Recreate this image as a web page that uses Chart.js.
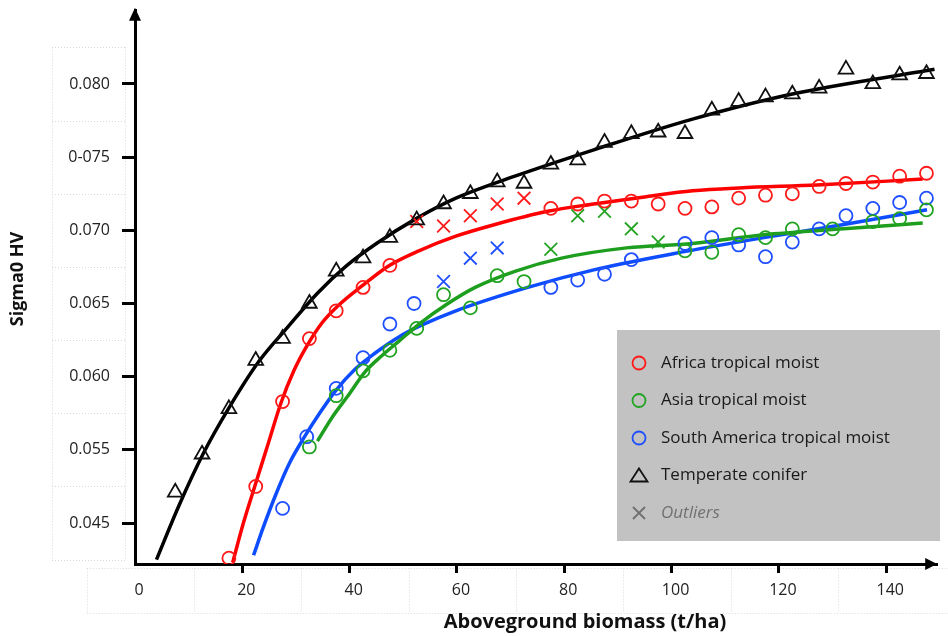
<!DOCTYPE html>
<html>
<head>
<meta charset="utf-8">
<script src="https://cdn.jsdelivr.net/npm/chart.js@4.4.0/dist/chart.umd.min.js"></script>
<style>
  html, body { margin: 0; padding: 0; background: #fff; }
  #wrap { width: 948px; height: 636px; }
</style>
</head>
<body>
<div id="wrap"><canvas id="c" width="948" height="636"></canvas></div>
<script>
// tick labels (the figure really says 0.045 and 0-075)
const xTicks = [0, 20, 40, 60, 80, 100, 120, 140];
const yTickValues = [0.050, 0.055, 0.060, 0.065, 0.070, 0.075, 0.080];
const yTickLabels = ['0.045', '0.055', '0.060', '0.065', '0.070', '0-075', '0.080'];

// Temperate conifer (triangles)
const coniferX = [7.5, 12.5, 17.5, 22.5, 27.5, 32.5, 37.5, 42.5, 47.5, 52.5, 57.5, 62.5, 67.5, 72.5, 77.5,
  82.5, 87.5, 92.5, 97.5, 102.5, 107.5, 112.5, 117.5, 122.5, 127.5, 132.5, 137.5, 142.5, 147.5];
const coniferY = [0.0521, 0.0547, 0.0578, 0.0611, 0.0626, 0.0650, 0.0672, 0.0681, 0.0695, 0.0707, 0.0718, 0.0725, 0.0733, 0.0732, 0.0745,
  0.0748, 0.0760, 0.0766, 0.0767, 0.0766, 0.0782, 0.0788, 0.0791, 0.0793, 0.0797, 0.0810, 0.0800, 0.0806, 0.0807];

// Africa tropical moist
const africaX = [17.5, 22.5, 27.5, 32.5, 37.5, 42.5, 47.5, 77.5, 82.5, 87.5, 92.5, 97.5, 102.5, 107.5, 112.5,
  117.5, 122.5, 127.5, 132.5, 137.5, 142.5, 147.5];
const africaY = [0.0476, 0.0525, 0.0583, 0.0626, 0.0645, 0.0661, 0.0676, 0.0715, 0.0718, 0.0720, 0.0720, 0.0718, 0.0715, 0.0716, 0.0722,
  0.0724, 0.0725, 0.0730, 0.0732, 0.0733, 0.0737, 0.0739];
const africaOutX = [52.5, 57.5, 62.5, 67.5, 72.5];
const africaOutY = [0.0706, 0.0703, 0.0710, 0.0718, 0.0722];

// Asia tropical moist
const asiaX = [32.5, 37.5, 42.5, 47.5, 52.5, 57.5, 62.5, 67.5, 72.5, 102.5, 107.5, 112.5, 117.5, 122.5, 130, 137.5, 142.5, 147.5];
const asiaY = [0.0552, 0.0587, 0.0604, 0.0618, 0.0633, 0.0656, 0.0647, 0.0669, 0.0665, 0.0686, 0.0685, 0.0697, 0.0695, 0.0701, 0.0701, 0.0706, 0.0708, 0.0714];
const asiaOutX = [77.5, 82.5, 87.5, 92.5, 97.5];
const asiaOutY = [0.0687, 0.0710, 0.0713, 0.0701, 0.0692];

// South America tropical moist
const samX = [27.5, 32, 37.5, 42.5, 47.5, 52, 77.5, 82.5, 87.5, 92.5, 102.5, 107.5, 112.5, 117.5, 122.5, 127.5, 132.5, 137.5, 142.5, 147.5];
const samY = [0.0510, 0.0559, 0.0592, 0.0613, 0.0636, 0.0650, 0.0661, 0.0666, 0.0670, 0.0680, 0.0691, 0.0695, 0.0690, 0.0682, 0.0692, 0.0701, 0.0710, 0.0715, 0.0719, 0.0722];
const samOutX = [57.5, 62.5, 67.5];
const samOutY = [0.0665, 0.0681, 0.0688];

// fitted curves, points
const coniferFitX = [4, 8.2, 12.8, 17.4, 23, 28.5, 34, 39.5, 45, 52.4, 59.8, 70.8, 85.5, 103.9, 122.3, 149];
const coniferFitY = [0.0475, 0.0512, 0.0548, 0.0578, 0.0610, 0.0634, 0.0657, 0.0676, 0.0691, 0.0708, 0.0722, 0.0737, 0.0755, 0.0776, 0.0793, 0.0810];
const africaFitX = [18.2, 20.2, 22.4, 24.8, 27.2, 29.6, 32.2, 34.9, 37.7, 42.3, 47.4, 52.9, 59.8, 67.1, 76.9, 85.5, 95.3, 103.9, 112.6, 127.1, 146.8];
const africaFitY = [0.0473, 0.0500, 0.0526, 0.0554, 0.0582, 0.0604, 0.0622, 0.0637, 0.0648, 0.0662, 0.0676, 0.0686, 0.0696, 0.0704, 0.0713, 0.0718, 0.0723, 0.0727, 0.0729, 0.0731, 0.0735];
const asiaFitX = [34, 36.7, 39.9, 42.8, 45.9, 49.1, 53.3, 57.9, 63.4, 70.8, 79.5, 91.6, 103.9, 117.2, 132.1, 146.8];
const asiaFitY = [0.0556, 0.0572, 0.0588, 0.0603, 0.0614, 0.0624, 0.0637, 0.0649, 0.0661, 0.0672, 0.0681, 0.0688, 0.0691, 0.0697, 0.0701, 0.0705];
const samFitX = [22.1, 23.9, 26.3, 28.8, 31.6, 34.4, 37.3, 41, 44.7, 49.1, 53.3, 59.8, 73.2, 85.5, 100.3, 117.2, 132.1, 147.6];
const samFitY = [0.0478, 0.0497, 0.0520, 0.0541, 0.0559, 0.0575, 0.0590, 0.0605, 0.0616, 0.0627, 0.0635, 0.0645, 0.0661, 0.0673, 0.0684, 0.0695, 0.0704, 0.0714];

const RED = '#ff1a1a', GREEN = '#22a322', BLUE = '#1f4fff', BLACK = '#111';

const pts = (xs, ys) => xs.map((x, i) => ({ x: x, y: ys[i] }));

function marks(xs, ys, color, style, r) {
  return {
    data: pts(xs, ys), showLine: false, pointStyle: style, pointRadius: r,
    borderColor: color, backgroundColor: 'rgba(0,0,0,0)', pointBorderWidth: 1.8
  };
}
function fit(xs, ys, color) {
  return {
    data: pts(xs, ys), showLine: true, pointRadius: 0, borderColor: color,
    borderWidth: 3.5, cubicInterpolationMode: 'monotone', fill: false
  };
}

const FONT = '"Open Sans", Lato, sans-serif';

// legend, arrows, axis titles and the faint dotted label boxes
const decor = {
  id: 'decor',
  beforeDraw(chart) {
    const ctx = chart.ctx, xs = chart.scales.x, ys = chart.scales.y;
    ctx.save();
    ctx.strokeStyle = '#d8d8d8';
    ctx.lineWidth = 1;
    ctx.setLineDash([1, 2]);
    const top = ys.getPixelForValue(0.0825), bot = ys.getPixelForValue(0.0475);
    ctx.beginPath();
    [52, 125].forEach(x => { ctx.moveTo(x + 0.5, top); ctx.lineTo(x + 0.5, bot); });
    for (let v = 0.0475; v <= 0.0826; v += 0.005) {
      const y = Math.round(ys.getPixelForValue(v)) + 0.5;
      ctx.moveTo(52, y); ctx.lineTo(125, y);
    }
    const l = xs.getPixelForValue(-9), y1 = 568.5, y2 = 613.5;
    ctx.moveTo(l, y1); ctx.lineTo(948, y1);
    ctx.moveTo(l, y2); ctx.lineTo(948, y2);
    for (let v = -9; v < 150; v += 20) {
      const x = Math.round(xs.getPixelForValue(v)) + 0.5;
      ctx.moveTo(x, y1); ctx.lineTo(x, y2);
    }
    ctx.stroke();
    ctx.restore();
  },
  afterDraw(chart) {
    const ctx = chart.ctx, a = chart.chartArea;
    ctx.save();
    // arrow heads
    ctx.fillStyle = '#000';
    ctx.beginPath();
    ctx.moveTo(a.left, a.top - 3); ctx.lineTo(a.left - 6, a.top + 10); ctx.lineTo(a.left + 6, a.top + 10);
    ctx.closePath(); ctx.fill();
    ctx.beginPath();
    ctx.moveTo(a.right, a.bottom); ctx.lineTo(a.right - 12, a.bottom - 6); ctx.lineTo(a.right - 12, a.bottom + 6);
    ctx.closePath(); ctx.fill();

    // axis titles
    ctx.fillStyle = '#111';
    ctx.font = 'bold 20px ' + FONT;
    ctx.textAlign = 'center';
    ctx.textBaseline = 'middle';
    ctx.fillText('Aboveground biomass (t/ha)', 585, 622);
    ctx.save();
    ctx.translate(18, 279);
    ctx.rotate(-Math.PI / 2);
    ctx.font = 'bold 18px ' + FONT;
    ctx.fillText('Sigma0 HV', 0, 0);
    ctx.restore();

    // legend box
    ctx.fillStyle = '#c2c2c2';
    ctx.fillRect(617, 330, 323, 211);
    const rows = [
      ['circle', RED, 'Africa tropical moist'],
      ['circle', GREEN, 'Asia tropical moist'],
      ['circle', BLUE, 'South America tropical moist'],
      ['triangle', BLACK, 'Temperate conifer'],
      ['cross', '#6f6f6f', 'Outliers']
    ];
    rows.forEach((r, i) => {
      const y = 363 + i * 37.5, x = 639;
      ctx.strokeStyle = r[1];
      ctx.lineWidth = 1.8;
      ctx.beginPath();
      if (r[0] === 'circle') {
        ctx.arc(x, y, 6.5, 0, Math.PI * 2);
      } else if (r[0] === 'triangle') {
        ctx.moveTo(x, y - 7); ctx.lineTo(x + 8.5, y + 6); ctx.lineTo(x - 8.5, y + 6); ctx.closePath();
      } else {
        ctx.moveTo(x - 6, y - 6); ctx.lineTo(x + 6, y + 6);
        ctx.moveTo(x + 6, y - 6); ctx.lineTo(x - 6, y + 6);
      }
      ctx.stroke();
      ctx.textAlign = 'left';
      ctx.textBaseline = 'middle';
      if (i === 4) { ctx.fillStyle = '#707070'; ctx.font = 'italic 17px ' + FONT; }
      else { ctx.fillStyle = '#1a1a1a'; ctx.font = '17px ' + FONT; }
      ctx.fillText(r[2], 661, y);
    });
    ctx.restore();
  }
};

new Chart(document.getElementById('c'), {
  type: 'scatter',
  data: {
    datasets: [
      marks(coniferX, coniferY, BLACK, 'triangle', 8.5),
      marks(africaX, africaY, RED, 'circle', 6.5),
      marks(asiaX, asiaY, GREEN, 'circle', 6.5),
      marks(samX, samY, BLUE, 'circle', 6.5),
      marks(africaOutX, africaOutY, RED, 'crossRot', 9),
      marks(asiaOutX, asiaOutY, GREEN, 'crossRot', 9),
      marks(samOutX, samOutY, BLUE, 'crossRot', 9),
      fit(coniferFitX, coniferFitY, '#000'),
      fit(africaFitX, africaFitY, '#ff0000'),
      fit(asiaFitX, asiaFitY, '#1e9e1e'),
      fit(samFitX, samFitY, '#0d4dff')
    ]
  },
  options: {
    responsive: false,
    animation: false,
    devicePixelRatio: 1,
    layout: { padding: { top: 8, right: 0, left: 0, bottom: 0 } },
    plugins: { legend: { display: false }, tooltip: { enabled: false } },
    scales: {
      x: {
        type: 'linear', min: 0, max: 149.5,
        afterBuildTicks: s => { s.ticks = xTicks.map(v => ({ value: v })); },
        afterFit: s => { s.height = 72; s.paddingLeft = 0; s.paddingRight = 0; },
        ticks: { color: '#222', font: { family: FONT, size: 16 }, padding: 8, labelOffset: 4, maxRotation: 0 },
        grid: {
          drawOnChartArea: false, tickLength: 9, tickWidth: 3,
          tickColor: c => (c.tick && c.tick.value === 0) ? 'rgba(0,0,0,0)' : '#000'
        },
        border: { color: '#000', width: 3 }
      },
      y: {
        type: 'linear', min: 0.0472, max: 0.0850,
        afterBuildTicks: s => { s.ticks = yTickValues.map(v => ({ value: v })); },
        afterFit: s => { s.width = 135; s.paddingTop = 0; s.paddingBottom = 0; },
        ticks: { color: '#222', font: { family: FONT, size: 16 }, padding: 12, callback: (v, i) => yTickLabels[i] },
        grid: { drawOnChartArea: false, tickLength: 13, tickWidth: 3, tickColor: '#000' },
        border: { color: '#000', width: 3 }
      }
    }
  },
  plugins: [decor]
});
</script>
</body>
</html>
